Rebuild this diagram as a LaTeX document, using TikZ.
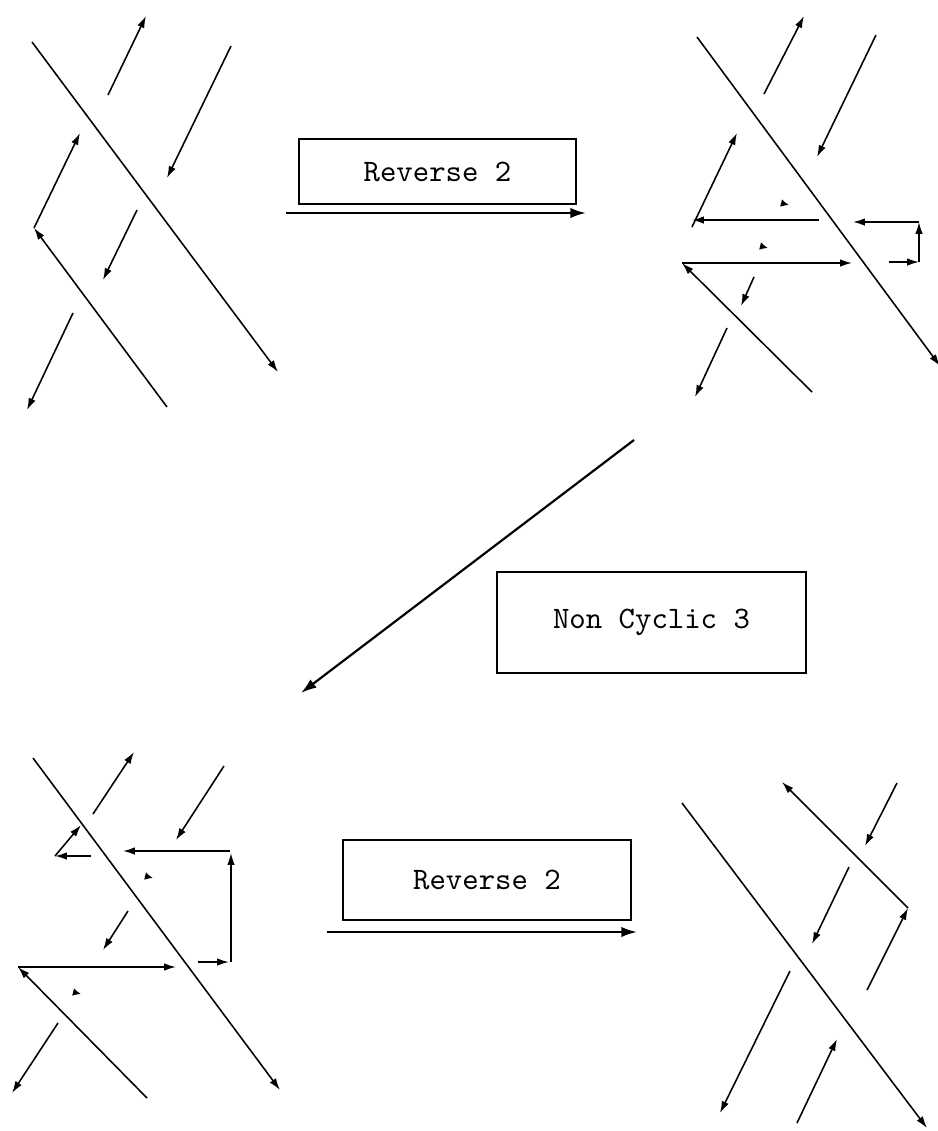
\documentclass[tikz,border=0pt]{standalone}
\usepackage{tikz}
\usetikzlibrary{arrows.meta}

\begin{document}
\begin{tikzpicture}[x=0.32pt,y=-0.32pt,line width=0.5pt,
    >={Latex[length=3.8pt,width=2.4pt]},
    movebox/.style={draw,line width=0.4pt,font=\ttfamily,inner sep=0pt},
    movearrow/.style={->,line width=0.7pt,>={Latex[length=5pt,width=3.3pt]}},
    tip/.style={->,>={Latex[length=2.6pt,width=2.5pt]}}]
  \useasboundingbox (0,0) rectangle (937,1131);

  % moves
  \node[movebox,minimum width=88.6pt,minimum height=20.8pt] (rev1) at (437.5,171.5) {Reverse 2};
  \node[movebox,minimum width=98.9pt,minimum height=32.3pt] (ncyc) at (651.5,622.5) {Non Cyclic 3};
  \node[movebox,minimum width=92.2pt,minimum height=25.6pt] (rev2) at (487,880) {Reverse 2};
  \coordinate (rev1s) at (286,213);
  \coordinate (rev1e) at (586,213);
  \coordinate (ncycs) at (634,440);
  \coordinate (ncyce) at (301,693);
  \coordinate (rev2s) at (327,932);
  \coordinate (rev2e) at (637,932);
  \draw[movearrow] (rev1s) -- (rev1e);
  \draw[movearrow] (ncycs) -- (ncyce);
  \draw[movearrow] (rev2s) -- (rev2e);

  % top left
  \coordinate (tlc) at (34,228);
  \draw[->] (32,42) -- (278,372);
  \draw[->] (108,95) -- (146,16);
  \draw[->] (231,46) -- (167,178);
  \draw[->] (167,407) -- (tlc);
  \draw[->] (tlc) -- (80,133);
  \draw[->] (137,210) -- (103,280);
  \draw[->] (73,313) -- (27,410);

  % top right
  \coordinate (trc) at (682,263);
  \draw[->] (697,37) -- (940,366);
  \draw[->] (764,94) -- (804,16);
  \draw[->] (876,35) -- (817,157);
  \draw[->] (692,227) -- (737,133);
  \draw[->] (819,220) -- (692,220);
  \draw[->] (919,222) -- (853,222);
  \draw[->] (919,262) -- (919,222);
  \draw[->] (889,262) -- (919,262);
  \draw[->] (812,392) -- (trc);
  \draw[->] (trc) -- (852,263);
  \draw[->] (754,277) -- (741,306);
  \draw[->] (727,328) -- (695,397);
  \draw[tip] (785,204) -- (789,205);
  \draw[tip] (764,247) -- (768,248);

  % bottom left
  \coordinate (blc) at (55,856);
  \coordinate (blb) at (18,967);
  \draw[->] (33,758) -- (280,1090);
  \draw[->] (93,814) -- (134,752);
  \draw[->] (224,766) -- (176,840);
  \draw[->] (91,856) -- (blc);
  \draw[->] (blc) -- (81,825);
  \draw[->] (230,851) -- (123,851);
  \draw[->] (231,962) -- (231,853);
  \draw[->] (198,962) -- (229,962);
  \draw[->] (147,1098) -- (blb);
  \draw[->] (blb) -- (176,967);
  \draw[->] (128,911) -- (103,950);
  \draw[->] (58,1023) -- (12,1093);
  \draw[tip] (149,877) -- (153,878);
  \draw[tip] (77,993) -- (81,994);

  % bottom right
  \coordinate (brc) at (908,908);
  \draw[->] (682,803) -- (927,1128);
  \draw[->] (brc) -- (782,782);
  \draw[->] (867,990) -- (brc);
  \draw[->] (897,783) -- (865,846);
  \draw[->] (849,867) -- (812,944);
  \draw[->] (790,971) -- (720,1113);
  \draw[->] (797,1123) -- (837,1039);
\end{tikzpicture}
\end{document}
